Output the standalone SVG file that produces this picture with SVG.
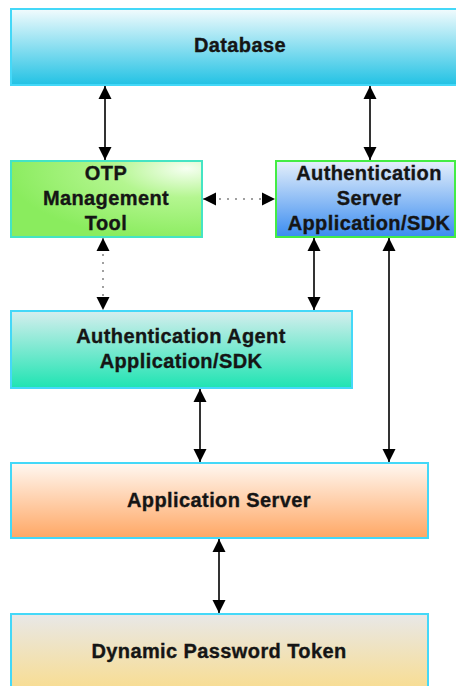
<svg xmlns="http://www.w3.org/2000/svg" width="456" height="686" viewBox="0 0 456 686">
<defs>
<linearGradient id="gDb" x1="0" y1="0" x2="0" y2="1"><stop offset="0" stop-color="#f2fbfd"/><stop offset="1" stop-color="#22c2e4"/></linearGradient>
<radialGradient id="gOtp" cx="0.92" cy="0.1" r="0.95"><stop offset="0" stop-color="#f6fff2"/><stop offset="0.4" stop-color="#b4f690"/><stop offset="1" stop-color="#8aec5e"/></radialGradient>
<linearGradient id="gAs" x1="0" y1="0" x2="0" y2="1"><stop offset="0" stop-color="#e6f0fb"/><stop offset="1" stop-color="#3a8cf0"/></linearGradient>
<linearGradient id="gAg" x1="0" y1="0" x2="0" y2="1"><stop offset="0" stop-color="#d6eeee"/><stop offset="1" stop-color="#1ee4b2"/></linearGradient>
<linearGradient id="gApp" x1="0" y1="0" x2="0" y2="1"><stop offset="0" stop-color="#fff8f2"/><stop offset="1" stop-color="#ffa764"/></linearGradient>
<linearGradient id="gDyn" x1="0" y1="0" x2="0" y2="1"><stop offset="0" stop-color="#e8e8e8"/><stop offset="1" stop-color="#f9dc8c"/></linearGradient>
<marker id="ah" markerUnits="userSpaceOnUse" markerWidth="14" markerHeight="14" viewBox="0 0 14 14" refX="13" refY="7" orient="auto-start-reverse"><path d="M0,0.5 L13,7 L0,13.5 z" fill="#000"/></marker>
</defs>
<style>
.box{stroke:#44d8f8;stroke-width:2}
.t{font-family:"Liberation Sans",Arial,sans-serif;font-weight:bold;font-size:20px;fill:#151515;stroke:#151515;stroke-width:0.35;text-anchor:middle;letter-spacing:0.4px}
.solid{stroke:#333;stroke-width:2;fill:none;marker-start:url(#ah);marker-end:url(#ah)}
.dot{stroke:#a0a0a0;stroke-width:2;stroke-dasharray:2 6;fill:none;marker-start:url(#ah);marker-end:url(#ah)}
</style>
<g id="database"><rect class="box" x="11" y="9" width="455" height="76" fill="url(#gDb)"/><text class="t" x="240" y="52">Database</text></g>
<g id="otp"><rect class="box" x="11" y="161" width="191" height="76" fill="url(#gOtp)" style="stroke:#44e4c4"/><text class="t" x="106" y="180">OTP</text><text class="t" x="106" y="205">Management</text><text class="t" x="106" y="230">Tool</text></g>
<g id="authserver"><rect class="box" x="276" y="161" width="179" height="76" fill="url(#gAs)" style="stroke:#44ec44"/><text class="t" x="369" y="180">Authentication</text><text class="t" x="369" y="205">Server</text><text class="t" x="369" y="230">Application/SDK</text></g>
<g id="agent"><rect class="box" x="11" y="311" width="341" height="77" fill="url(#gAg)"/><text class="t" x="181" y="343">Authentication Agent</text><text class="t" x="181" y="368">Application/SDK</text></g>
<g id="appserver"><rect class="box" x="11" y="463" width="417" height="75" fill="url(#gApp)"/><text class="t" x="219" y="507">Application Server</text></g>
<g id="token"><rect class="box" x="11" y="614" width="417" height="80" fill="url(#gDyn)"/><text class="t" x="219" y="658">Dynamic Password Token</text></g>
<g id="connectors">
<line class="solid" x1="105" y1="86" x2="105" y2="160"/>
<line class="solid" x1="370" y1="86" x2="370" y2="160"/>
<line class="dot" x1="203" y1="199" x2="275" y2="199"/>
<line class="dot" x1="103" y1="238" x2="103" y2="310"/>
<line class="solid" x1="314" y1="238" x2="314" y2="310"/>
<line class="solid" x1="389" y1="238" x2="389" y2="462"/>
<line class="solid" x1="200" y1="389" x2="200" y2="462"/>
<line class="solid" x1="219" y1="539" x2="219" y2="613"/>
</g>
</svg>
